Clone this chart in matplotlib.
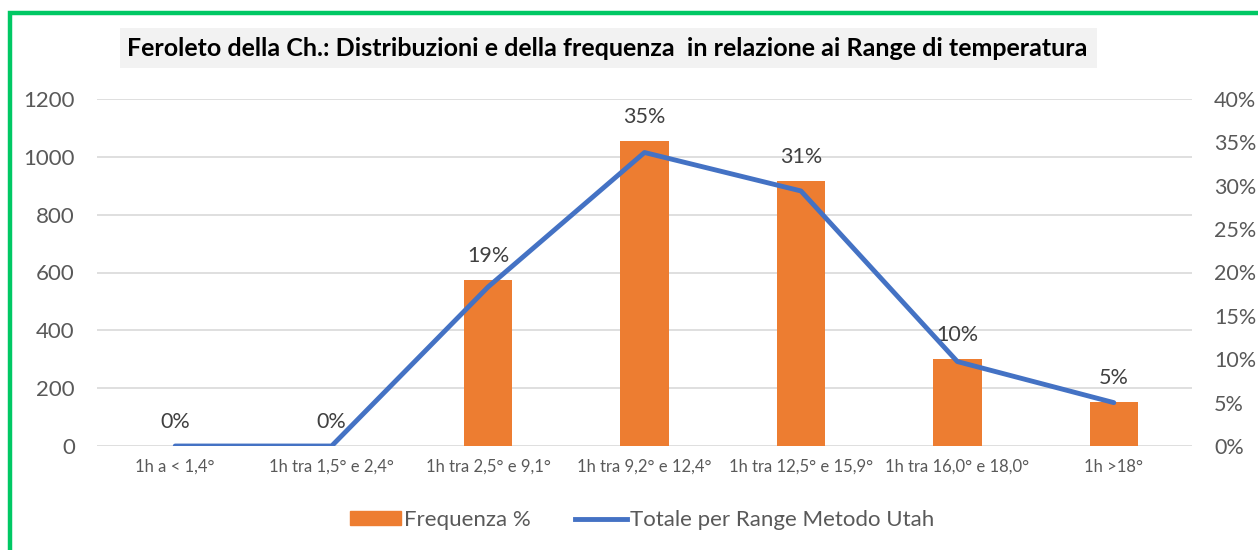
import matplotlib.pyplot as plt
from matplotlib.patches import Rectangle
from matplotlib.lines import Line2D
from matplotlib.ticker import PercentFormatter

categories = ["1h a < 1,4°", "1h tra 1,5° e 2,4°", "1h tra 2,5° e 9,1°",
              "1h tra 9,2° e 12,4°", "1h tra 12,5° e 15,9°",
              "1h tra 16,0° e 18,0°", "1h >18°"]
freq_pct = [0.0, 0.0, 0.191, 0.352, 0.306, 0.100, 0.051]
freq_labels = ["0%", "0%", "19%", "35%", "31%", "10%", "5%"]
totale_utah = [0, 0, 550, 1015, 882, 292, 150]

title = "Feroleto della Ch.: Distribuzioni e della frequenza  in relazione ai Range di temperatura"

plt.rcParams['font.family'] = ['Lato', 'DejaVu Sans']
orange = "#ED7D31"
blue = "#4472C4"
grey_txt = "#595959"

W, H = 1258, 550
fig = plt.figure(figsize=(W / 100, H / 100), dpi=100)

# green frame around the chart area
fig.patches.append(Rectangle((9.5 / W, -0.05), 1.1, (H - 13) / H + 0.05,
                             transform=fig.transFigure, fill=False,
                             edgecolor="#00C864", linewidth=3.2))

# title box
fig.patches.append(Rectangle((120 / W, 1 - 68 / H), (1097 - 120) / W, 40 / H,
                             transform=fig.transFigure, facecolor="#F2F2F2",
                             edgecolor="none"))
fig.text(607 / W, 1 - 49 / H, title, ha="center", va="center",
         fontsize=18, fontweight="bold", color="#000000")

# axes: grid + left scale, bars on right scale, line on top
ax = fig.add_axes([97 / W, 104 / H, (1192 - 97) / W, (446 - 99) / H])
axb = ax.twinx()
axl = ax.twinx()

x = list(range(len(categories)))

ax.set_ylim(0, 1200)
ax.set_yticks(range(0, 1201, 200))
ax.grid(axis="y", color="#D9D9D9", linewidth=1.2)
ax.set_axisbelow(True)
ax.tick_params(axis="y", length=0, labelsize=16, labelcolor=grey_txt, pad=16)
ax.set_xticks(x)
ax.set_xticklabels(categories)
ax.tick_params(axis="x", length=0, labelsize=12, labelcolor=grey_txt, pad=9)
ax.set_xlim(-0.5, len(categories) - 0.5)

axb.bar(x, freq_pct, width=0.31, color=orange, label="Frequenza %")
axb.set_ylim(0, 0.40)
axb.set_yticks([i * 0.05 for i in range(9)])
axb.yaxis.set_major_formatter(PercentFormatter(1.0, decimals=0))
axb.tick_params(axis="y", length=0, labelsize=15.5, labelcolor=grey_txt, pad=16)
for xi, v, lab in zip(x, freq_pct, freq_labels):
    axb.annotate(lab, (xi, v), xytext=(0, 10), textcoords="offset points",
                 ha="center", va="bottom", fontsize=15.5, color="#404040")

axl.plot(x, totale_utah, color=blue, linewidth=3.5, solid_capstyle="round",
         solid_joinstyle="round", label="Totale per Range Metodo Utah")
axl.set_ylim(0, 1200)
axl.set_yticks([])

for a in (ax, axb, axl):
    for s in a.spines.values():
        s.set_visible(False)

handles = [Rectangle((0, 0), 1, 1, color=orange),
           Line2D([0], [0], color=blue, linewidth=3.5)]
fig.legend(handles, ["Frequenza %", "Totale per Range Metodo Utah"],
           loc="center", bbox_to_anchor=(642 / W, 1 - 520 / H), ncol=2,
           frameon=False, fontsize=16, labelcolor=grey_txt,
           handlelength=2.3, handleheight=0.6, handletextpad=0.15,
           columnspacing=2.0)

fig.savefig("out.png", dpi=100)
